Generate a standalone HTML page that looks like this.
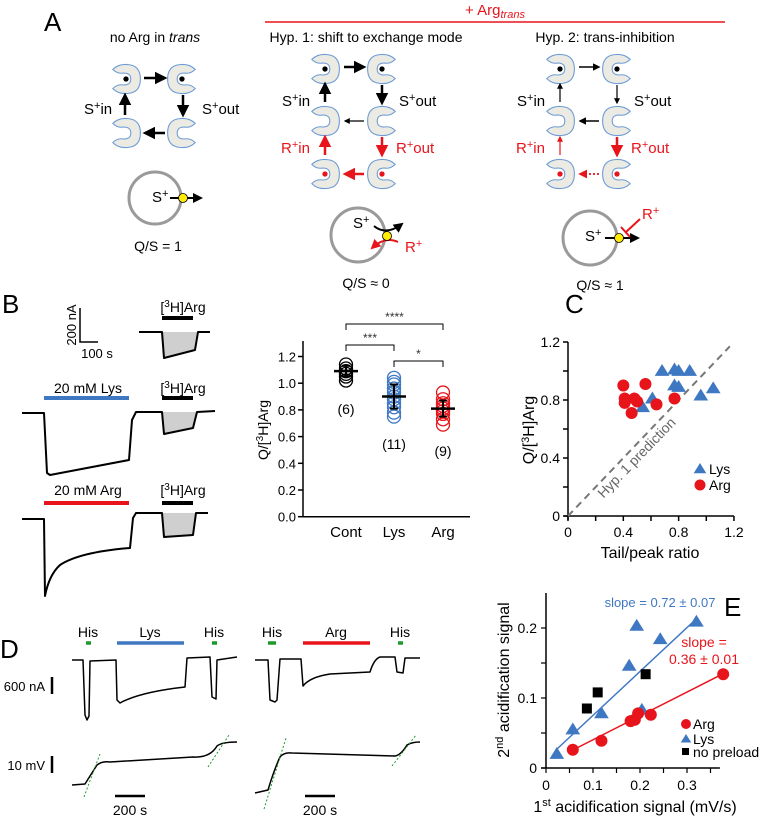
<!DOCTYPE html>
<html><head><meta charset="utf-8"><style>
html,body{margin:0;padding:0;background:#fff;}
svg{display:block;font-family:"Liberation Sans",Arial,sans-serif;}
</style></head><body>
<svg id="fig" width="762" height="824" viewBox="0 0 762 824" xmlns="http://www.w3.org/2000/svg">
<defs>
<marker id="ak" viewBox="0 0 10 10" refX="8" refY="5" markerWidth="5" markerHeight="5" orient="auto"><path d="M0,0L10,5L0,10Z" fill="#000"/></marker>
<marker id="ar" viewBox="0 0 10 10" refX="8" refY="5" markerWidth="5" markerHeight="5" orient="auto"><path d="M0,0L10,5L0,10Z" fill="#e8141b"/></marker>
</defs>
<g id="panelA"></g>
<g id="panelB"></g>
<g id="panelC"></g>
<g id="panelD"></g>
<g id="panelE"></g>
</svg>
<script>
// ===== Panel B scatter data =====
const bCategories = ['Cont','Lys','Arg'];
const bCont = [1.02,1.05,1.07,1.09,1.11,1.14];
const bLys = [0.75,0.78,0.82,0.85,0.88,0.90,0.93,0.96,0.99,1.01,1.04];
const bArg = [0.69,0.73,0.77,0.79,0.81,0.83,0.85,0.88,0.93];
const bMeans = [1.09,0.90,0.81];
const bErrLo = [1.05,0.81,0.75];
const bErrHi = [1.13,0.99,0.87];
const bCounts = ['(6)','(11)','(9)'];
const bYTicks = [0,0.2,0.4,0.6,0.8,1.0,1.2];
// ===== Panel C data =====
const cLysX = [0.68,0.77,0.80,0.88,0.77,0.80,0.96,1.05,0.61,0.54];
const cLysY = [1.00,1.01,1.00,1.00,0.90,0.89,0.83,0.88,0.81,0.75];
const cArgX = [0.40,0.56,0.41,0.41,0.48,0.50,0.46,0.64,0.77];
const cArgY = [0.90,0.91,0.81,0.78,0.81,0.79,0.71,0.77,0.81];
const cTicks = [0,0.2,0.4,0.6,0.8,1.0,1.2];
const cTickLabels = ['0','','0.4','','0.8','','1.2'];
const cPredLine = [0,1.17];
// ===== Panel E data =====
const eLysX = [0.023,0.057,0.118,0.177,0.193,0.204,0.243,0.32];
const eLysY = [0.020,0.055,0.078,0.146,0.203,0.083,0.184,0.209];
const eArgX = [0.057,0.118,0.18,0.189,0.196,0.223,0.377];
const eArgY = [0.026,0.039,0.067,0.069,0.078,0.076,0.134];
const eNoX = [0.087,0.11,0.212];
const eNoY = [0.085,0.108,0.134];
const eLysFitX = [0.02,0.315];
const eLysFitY = [0.025,0.21];
const eArgFitX = [0.055,0.375];
const eArgFitY = [0.025,0.134];
const eXTicks = [0,0.05,0.1,0.15,0.2,0.25,0.3,0.35];
const eXLabels = ['0','','0.1','','0.2','','0.3',''];
const eYTicks = [0,0.05,0.1,0.15,0.2];
const eYLabels = ['0','','0.1','','0.2'];

const NS='http://www.w3.org/2000/svg';
const RED='#e8141b', BLUE='#3f78c2', GRN='#1c9a2a';
function mk(parent, tag, attrs, name, text){
  const e=document.createElementNS(NS,tag);
  for(const k in attrs) e.setAttribute(k, attrs[k]);
  
  
  if(text!==undefined) e.textContent=text;
  parent.appendChild(e);
  return e;
}
function txt(p,x,y,s,name,opt){opt=opt||{};
  return mk(p,'text',Object.assign({x:x,y:y,'font-size':opt.fs||14,fill:opt.fill||'#000','text-anchor':opt.anchor||'middle'},opt.extra||{}),name,s);}
function line(p,x1,y1,x2,y2,name,stroke,w,extra){
  return mk(p,'line',Object.assign({x1:x1,y1:y1,x2:x2,y2:y2,stroke:stroke||'#000','stroke-width':w||1.5},extra||{}),name);}
function arrow(p,x1,y1,x2,y2,name,col,w){
  return line(p,x1,y1,x2,y2,name,col==='r'?RED:'#000',w||2.5,{'marker-end':col==='r'?'url(#ar)':'url(#ak)'});}
function tri(p,x,y,s,fill,name){
  return mk(p,'path',{d:`M${x},${y-s}L${x+s*1.05},${y+s*0.7}L${x-s*1.05},${y+s*0.7}Z`,fill:fill},name);}
function circ(p,x,y,r,fill,name,extra){return mk(p,'circle',Object.assign({cx:x,cy:y,r:r,fill:fill},extra||{}),name);}

// ===== PANEL A =====
const A=document.getElementById('panelA');
txt(A,44,31,'A','panel-a-label',{fs:26,anchor:'start'});
function transporter(cx,cy,dir,dot,name){
  const g=mk(A,'g',{transform:`translate(${cx},${cy}) scale(${dir*1.2},1.2)`},name);
  mk(g,'path',{d:'M11,-8Q6,-13 -2,-12Q-12,-11 -12,0Q-12,11 -2,12Q6,13 11,8Q7,4 2,5Q-4,5 -4,0Q-4,-5 2,-5Q7,-4 11,-8Z',fill:'#ecebe3',stroke:'#6d9bd6','stroke-width':0.9},name+'-body');
  if(dot) circ(g,0,0,2.2,dot==='r'?RED:'#000',name+'-substrate');
}
function sup(p,x,y,base,sub,name,fill){
  const t=mk(p,'text',{x:x,y:y,'font-size':15,fill:fill||'#000','text-anchor':'start'},name);
  const a=document.createElementNS(NS,'tspan');a.textContent=base;t.appendChild(a);
  const b=document.createElementNS(NS,'tspan');b.setAttribute('dy','-5');b.setAttribute('font-size','11');b.textContent='+';t.appendChild(b);
  if(sub){const c=document.createElementNS(NS,'tspan');c.setAttribute('dy','5');c.textContent=sub;t.appendChild(c);}
  return t;
}
line(A,265,22,725,22,'arg-trans-bracket',RED,1.5);
const ht=txt(A,495,15,'+ Arg','arg-trans-header',{fill:RED,fs:15});
{const s=document.createElementNS(NS,'tspan');s.setAttribute('dy','3');s.setAttribute('font-size','11');s.setAttribute('font-style','italic');s.textContent='trans';ht.appendChild(s);}
const t1=txt(A,155,42,'no Arg in ','title-no-arg',{fs:14});
{const s=document.createElementNS(NS,'tspan');s.setAttribute('font-style','italic');s.textContent='trans';t1.appendChild(s);}
txt(A,366,42,'Hyp. 1: shift to exchange mode','title-hyp1',{fs:14});
txt(A,605,42,'Hyp. 2: trans-inhibition','title-hyp2',{fs:14});
transporter(126,79,-1,'k','c1-tr-tl');transporter(182,79,1,'k','c1-tr-tr');
transporter(126,133,-1,null,'c1-tr-bl');transporter(182,133,1,null,'c1-tr-br');
arrow(A,144,78,165,78,'c1-arrow-top');arrow(A,165,133,145,133,'c1-arrow-bottom');
arrow(A,125,115,125,95,'c1-arrow-left');arrow(A,183,95,183,115,'c1-arrow-right');
sup(A,84,114,'S','in','c1-s-in');sup(A,202,114,'S','out','c1-s-out');
circ(A,155,198,26,'none','c1-vesicle',{stroke:'#9a9a9a','stroke-width':3});
arrow(A,170,198,201,198,'c1-flux-arrow','k',2);
circ(A,183,198,4.5,'#ffec00','c1-transporter-dot',{stroke:'#000','stroke-width':0.8});
sup(A,152,202,'S','','c1-s-label');
txt(A,158,251,'Q/S = 1','c1-qs',{fs:14});
[[325,'c2'],[560,'c3']].forEach(([x0,c])=>{
  const x1=x0+57;
  transporter(x0,69,-1,'k',c+'-tr-1');transporter(x1,69,1,'k',c+'-tr-2');
  transporter(x0,121,-1,null,c+'-tr-3');transporter(x1,121,1,null,c+'-tr-4');
  transporter(x0,174,-1,'r',c+'-tr-5');transporter(x1,174,1,'r',c+'-tr-6');
  const thick = c==='c2';
  arrow(A,x0+19,67,x0+39,67,c+'-arrow-top','k',thick?2.5:1.5);
  arrow(A,x0+39,121,x0+20,121,c+'-arrow-mid','k',thick?1.2:1.5);
  const ba=arrow(A,x0+39,174,x0+20,174,c+'-arrow-bottom','r',thick?2.5:1.8);
  if(!thick) ba.setAttribute('stroke-dasharray','2,2');
  arrow(A,x0,102,x0,84,c+'-arrow-s-in','k',thick?2.5:1.2);
  arrow(A,x1,85,x1,103,c+'-arrow-s-out','k',thick?2.5:1.2);
  arrow(A,x0,155,x0,137,c+'-arrow-r-in','r',thick?2.5:1.2);
  arrow(A,x1,137,x1,155,c+'-arrow-r-out','r',2.5);
  sup(A,x0-43,106,'S','in',c+'-s-in');sup(A,x1+17,106,'S','out',c+'-s-out');
  sup(A,x0-44,153,'R','in',c+'-r-in',RED);sup(A,x1+14,153,'R','out',c+'-r-out',RED);
});
circ(A,358,235,27,'none','c2-vesicle',{stroke:'#9a9a9a','stroke-width':3});
mk(A,'path',{d:'M374,226Q386,236 402,224',fill:'none',stroke:'#000','stroke-width':2,'marker-end':'url(#ak)'},'c2-s-flux-arrow');
mk(A,'path',{d:'M398,242Q385,236 372,248',fill:'none',stroke:RED,'stroke-width':2,'marker-end':'url(#ar)'},'c2-r-flux-arrow');
circ(A,387,236,4.5,'#ffec00','c2-transporter-dot',{stroke:'#000','stroke-width':0.8});
sup(A,353,228,'S','','c2-s-label');sup(A,405,252,'R','','c2-r-label',RED);
txt(A,366,288,'Q/S ≈ 0','c2-qs',{fs:14});
circ(A,590,238,27,'none','c3-vesicle',{stroke:'#9a9a9a','stroke-width':3});
arrow(A,605,238,638,238,'c3-flux-arrow','k',2);
line(A,640,219,626,232,'c3-inhibitor',RED,2);
line(A,621,227,630,237,'c3-inhibitor-bar',RED,2);
circ(A,619,238,4.5,'#ffec00','c3-transporter-dot',{stroke:'#000','stroke-width':0.8});
sup(A,585,241,'S','','c3-s-label');sup(A,642,219,'R','','c3-r-label',RED);
txt(A,600,290,'Q/S ≈ 1','c3-qs',{fs:14});

// ===== PANEL B traces =====
const B=document.getElementById('panelB');
txt(B,2,313,'B','panel-b-label',{fs:26,anchor:'start'});
mk(B,'path',{d:'M80,308V342H98',fill:'none',stroke:'#000','stroke-width':1.5},'b-scale-bar');
txt(B,76,325,'200 nA','b-scale-current',{fs:13,extra:{transform:'rotate(-90 76 325)'}});
txt(B,97,358,'100 s','b-scale-time',{fs:13});
function pathEl(p,d,name,stroke,w,fill){return mk(p,'path',{d:d,fill:fill||'none',stroke:stroke||'#000','stroke-width':w||2,'stroke-linejoin':'round'},name);}
function h3(p,cx,y,name){const t=txt(p,cx,y,'[','b-h3arg-label-'+name,{fs:14});
  const s=document.createElementNS(NS,'tspan');s.setAttribute('dy','-5');s.setAttribute('font-size','10');s.textContent='3';t.appendChild(s);
  const s2=document.createElementNS(NS,'tspan');s2.setAttribute('dy','5');s2.textContent='H]Arg';t.appendChild(s2);}
pathEl(B,'M162,332L164,358L195,350L197,332Z','b-trace1-area','none',0,'#cfcfcf');
pathEl(B,'M139,332L162,332L164,358L195,350L198,332L210,332','b-trace1');
h3(B,183,312,'1');line(B,162,318,193,318,'b-trace1-bar','#000',4);
txt(B,88,393,'20 mM Lys','b-lys-label',{fs:14});line(B,44,398,129,398,'b-lys-bar',BLUE,4);
h3(B,183,393,'2');line(B,162,398,193,398,'b-trace2-bar','#000',4);
pathEl(B,'M162,412L164,434L193,428L196,412Z','b-trace2-area','none',0,'#cfcfcf');
pathEl(B,'M22,413L44,413L47,473L50,475L129,460L132,420L136,412L162,412L164,434L193,428L197,412L215,411','b-trace2');
txt(B,88,495,'20 mM Arg','b-arg-label',{fs:14});line(B,44,503,129,503,'b-arg-bar',RED,4);
h3(B,183,495,'3');line(B,162,503,193,503,'b-trace3-bar','#000',4);
pathEl(B,'M162,513L164,537L193,535L196,513Z','b-trace3-area','none',0,'#cfcfcf');
pathEl(B,'M22,519L44,519L45,596Q49,575 60,565Q80,552 130,548L133,518L136,513L162,513L164,537L193,535L196,513L208,513','b-trace3');

// ===== PANEL B scatter =====
const bx0=303, by0=516.7, bys=133.5;
const bY=v=>by0-v*bys;
const bCatX=[346,394,443];
line(B,bx0,341,bx0,by0,'b-y-axis','#000',1.5);
line(B,bx0,by0,470,by0,'b-x-axis','#000',1.5);
bYTicks.forEach((v,i)=>{line(B,bx0-5,bY(v),bx0,bY(v),'b-y-tick','#000',1.5);
  txt(B,bx0-7,bY(v)+5,v.toFixed(1),'b-y-tick-label',{fs:13,anchor:'end'});});
bCategories.forEach((c,i)=>txt(B,bCatX[i],537,c,'b-category-label',{fs:15}));
const bt=txt(B,268,430,'Q/[','b-y-axis-title',{fs:14,extra:{transform:'rotate(-90 268 430)'}});
{const s=document.createElementNS(NS,'tspan');s.setAttribute('dy','-5');s.setAttribute('font-size','10');s.textContent='3';bt.appendChild(s);
 const s2=document.createElementNS(NS,'tspan');s2.setAttribute('dy','5');s2.textContent='H]Arg';bt.appendChild(s2);}
const bCols=['#000',BLUE,RED];
[bCont,bLys,bArg].forEach((arr,i)=>{arr.forEach(v=>{
  circ(B,bCatX[i],bY(v),6.5,'none','b-point-'+bCategories[i].toLowerCase(),{stroke:bCols[i],'stroke-width':1.3});});
  line(B,bCatX[i]-12,bY(bMeans[i]),bCatX[i]+12,bY(bMeans[i]),'b-mean-'+bCategories[i].toLowerCase(),'#000',2.5);
  line(B,bCatX[i],bY(bErrLo[i]),bCatX[i],bY(bErrHi[i]),'b-errorbar','#000',2);
  line(B,bCatX[i]-4,bY(bErrLo[i]),bCatX[i]+4,bY(bErrLo[i]),'b-errorcap','#000',2);
  line(B,bCatX[i]-4,bY(bErrHi[i]),bCatX[i]+4,bY(bErrHi[i]),'b-errorcap','#000',2);
  txt(B,bCatX[i],[414,449,456][i],bCounts[i],'b-n-label',{fs:14});
});
function brk(x1,x2,y,lab,name){pathEl(B,`M${x1},${y+6}V${y}H${x2}V${y+6}`,name,'#000',1);txt(B,(x1+x2)/2,y-3,lab,name+'-stars',{fs:12,fill:'#333'});}
brk(346,443,324,'****','b-sig-cont-arg');brk(346,394,345,'***','b-sig-cont-lys');brk(394,443,361,'*','b-sig-lys-arg');

// ===== PANEL C =====
const C=document.getElementById('panelC');
txt(C,565,313,'C','panel-c-label',{fs:26,anchor:'start'});
const cx0=568, cy0=516, cxs=138.3, cys=145;
const cX=v=>cx0+v*cxs, cY=v=>cy0-v*cys;
line(C,cx0,cY(1.2),cx0,cy0+4,'c-y-axis','#000',1.5);
line(C,cx0-4,cy0,cX(1.2),cy0,'c-x-axis','#000',1.5);
cTicks.forEach((v,i)=>{line(C,cX(v),cy0,cX(v),cy0+5,'c-x-tick','#000',1.5);
  line(C,cx0-5,cY(v),cx0,cY(v),'c-y-tick','#000',1.5);
  if(cTickLabels[i]){txt(C,cX(v),cy0+21,cTickLabels[i],'c-x-tick-label',{fs:14});
  txt(C,cx0-8,cY(v)+5,cTickLabels[i],'c-y-tick-label',{fs:14,anchor:'end'});}});
txt(C,650,558,'Tail/peak ratio','c-x-axis-title',{fs:16});
const ct=txt(C,534,430,'Q/[','c-y-axis-title',{fs:16,extra:{transform:'rotate(-90 534 430)'}});
{const s=document.createElementNS(NS,'tspan');s.setAttribute('dy','-5');s.setAttribute('font-size','11');s.textContent='3';ct.appendChild(s);
 const s2=document.createElementNS(NS,'tspan');s2.setAttribute('dy','5');s2.textContent='H]Arg';ct.appendChild(s2);}
line(C,cX(cPredLine[0]),cY(cPredLine[0]),cX(cPredLine[1]),cY(cPredLine[1]),'c-hyp1-prediction-line','#777',2,{'stroke-dasharray':'7,5'});
txt(C,640,461,'Hyp. 1 prediction','c-hyp1-prediction-label',{fs:14,fill:'#666',extra:{transform:'rotate(-46 640 461)'}});
cLysX.forEach((x,i)=>tri(C,cX(x),cY(cLysY[i]),7,BLUE,'c-point-lys'));
cArgX.forEach((x,i)=>circ(C,cX(x),cY(cArgY[i]),6,RED,'c-point-arg'));
tri(C,700,469,6,BLUE,'c-legend-lys-marker');txt(C,709,474,'Lys','c-legend-lys',{fs:14,anchor:'start'});
circ(C,700,485,5.5,RED,'c-legend-arg-marker');txt(C,709,490,'Arg','c-legend-arg',{fs:14,anchor:'start'});

// ===== PANEL D =====
const D=document.getElementById('panelD');
txt(D,0,658,'D','panel-d-label',{fs:26,anchor:'start'});
[[88,'His',GRN],[150,'Lys',BLUE],[214,'His',GRN],[272,'His',GRN],[336,'Arg',RED],[400,'His',GRN]].forEach(([x,l,c])=>txt(D,x,637,l,'d-stim-label-'+l.toLowerCase(),{fs:14}));
line(D,86,643,91,643,'d-bar-his',GRN,3.5);line(D,117,643,184,643,'d-bar-lys',BLUE,3.5);line(D,212,643,217,643,'d-bar-his',GRN,3.5);
line(D,268,643,276,643,'d-bar-his',GRN,3.5);line(D,303,643,370,643,'d-bar-arg',RED,3.5);line(D,398,643,403,643,'d-bar-his',GRN,3.5);
pathEl(D,'M72,660L83,660L85,715L87,720L89,716L90,661L116,660L117,700L120,703Q140,692 185,687L187,658L210,657L212,697L216,699L217,660L237,657','d-current-trace-lys',null,1.5);
pathEl(D,'M255,660L268,660L270,700L275,702L277,700L280,659L301,659L303,686Q310,677 330,674L370,672Q374,659 380,657L395,657L397,672L403,673L405,658L420,658','d-current-trace-arg',null,1.5);
pathEl(D,'M72,785L85,784Q90,776 97,765Q102,761 110,762L193,757Q210,758 217,746Q222,742 237,742','d-voltage-trace-lys',null,1.5);
pathEl(D,'M255,793L268,790Q274,770 280,757Q284,752 292,753L395,756Q401,755 407,745Q412,742 420,742','d-voltage-trace-arg',null,1.5);
[[84,797,100,754],[208,767,229,735],[264,809,286,738],[392,766,416,735]].forEach(a=>line(D,a[0],a[1],a[2],a[3],'d-slope-fit',GRN,1,{'stroke-dasharray':'2,2'}));
line(D,52,677,52,694,'d-scale-current','#000',2.5);txt(D,45,691,'600 nA','d-scale-current-label',{fs:13,anchor:'end'});
line(D,52,756,52,773,'d-scale-voltage','#000',2.5);txt(D,45,770,'10 mV','d-scale-voltage-label',{fs:13,anchor:'end'});
line(D,115,796,145,796,'d-scale-time-1','#000',2.5);txt(D,130,815,'200 s','d-scale-time-label',{fs:14});
line(D,305,796,335,796,'d-scale-time-2','#000',2.5);txt(D,320,815,'200 s','d-scale-time-label',{fs:14});

// ===== PANEL E =====
const E=document.getElementById('panelE');
txt(E,724,616,'E','panel-e-label',{fs:26,anchor:'start'});
const ex0=546, ey0=768, exs=470, eys=700;
const eX=v=>ex0+v*exs, eY=v=>ey0-v*eys;
line(E,ex0,593,ex0,ey0,'e-y-axis','#000',1.5);
line(E,ex0-5,ey0,eX(0.37),ey0,'e-x-axis','#000',1.5);
eXTicks.forEach((v,i)=>{line(E,eX(v),ey0,eX(v),ey0+5,'e-x-tick','#000',1.2);if(eXLabels[i])txt(E,eX(v),ey0+22,eXLabels[i],'e-x-tick-label',{fs:14});});
eYTicks.forEach((v,i)=>{line(E,ex0-5,eY(v),ex0,eY(v),'e-y-tick','#000',1.2);if(eYLabels[i])txt(E,ex0-9,eY(v)+5,eYLabels[i],'e-y-tick-label',{fs:14,anchor:'end'});});
const ex=txt(E,635,812,'1','e-x-axis-title',{fs:16});
{const s=document.createElementNS(NS,'tspan');s.setAttribute('dy','-6');s.setAttribute('font-size','11');s.textContent='st';ex.appendChild(s);
 const s2=document.createElementNS(NS,'tspan');s2.setAttribute('dy','6');s2.textContent=' acidification signal (mV/s)';ex.appendChild(s2);}
const ey=txt(E,509,680,'2','e-y-axis-title',{fs:16,extra:{transform:'rotate(-90 509 680)'}});
{const s=document.createElementNS(NS,'tspan');s.setAttribute('dy','-6');s.setAttribute('font-size','11');s.textContent='nd';ey.appendChild(s);
 const s2=document.createElementNS(NS,'tspan');s2.setAttribute('dy','6');s2.textContent=' acidification signal';ey.appendChild(s2);}
line(E,eX(eLysFitX[0]),eY(eLysFitY[0]),eX(eLysFitX[1]),eY(eLysFitY[1]),'e-lys-fit-line',BLUE,1.5);
line(E,eX(eArgFitX[0]),eY(eArgFitY[0]),eX(eArgFitX[1]),eY(eArgFitY[1]),'e-arg-fit-line',RED,1.5);
eLysX.forEach((x,i)=>tri(E,eX(x),eY(eLysY[i]),7,BLUE,'e-point-lys'));
eNoX.forEach((x,i)=>mk(E,'rect',{x:eX(x)-5,y:eY(eNoY[i])-5,width:10,height:10,fill:'#000'},'e-point-no-preload'));
eArgX.forEach((x,i)=>circ(E,eX(x),eY(eArgY[i]),6,RED,'e-point-arg'));
txt(E,660,607,'slope = 0.72 ± 0.07','e-lys-slope-label',{fs:13,fill:BLUE});
txt(E,704,647,'slope =','e-arg-slope-label-1',{fs:14,fill:RED});
txt(E,704,664,'0.36 ± 0.01','e-arg-slope-label-2',{fs:14,fill:RED});
circ(E,686,724,5,RED,'e-legend-arg-marker');txt(E,693,729,'Arg','e-legend-arg',{fs:14,anchor:'start'});
tri(E,686,739,5,BLUE,'e-legend-lys-marker');txt(E,693,744,'Lys','e-legend-lys',{fs:14,anchor:'start'});
mk(E,'rect',{x:682,y:748,width:7,height:7,fill:'#000'},'e-legend-no-preload-marker');txt(E,693,757,'no preload','e-legend-no-preload',{fs:14,anchor:'start'});
</script>
</body></html>
